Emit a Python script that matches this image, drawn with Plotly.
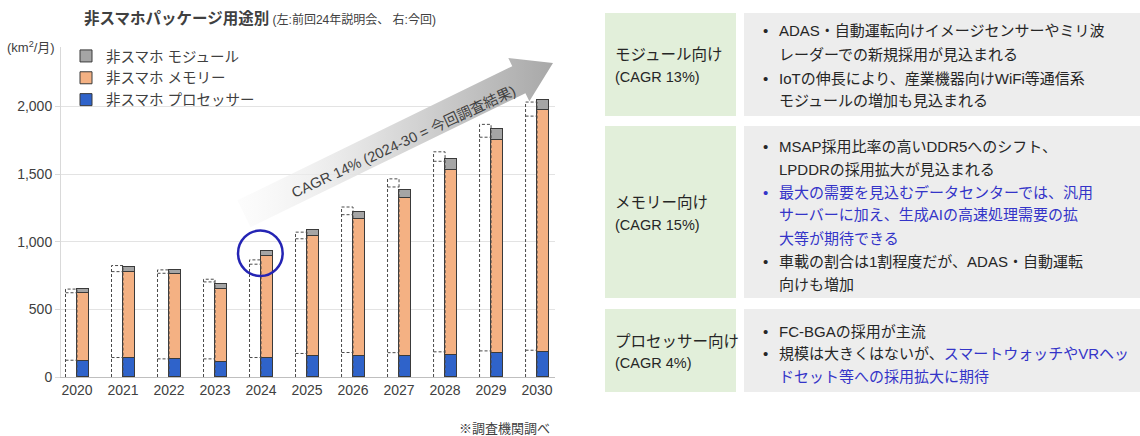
import math
import plotly.graph_objects as go

# ---------------- data ----------------
years = ["2020", "2021", "2022", "2023", "2024", "2025", "2026", "2027", "2028", "2029", "2030"]

# current survey (right bars)
cur_proc = [120, 141, 134, 111, 141, 156, 156, 155, 166, 174, 186]
cur_mem = [499, 638, 626, 542, 757, 890, 1014, 1169, 1363, 1575, 1786]
cur_mod = [29, 37, 32, 33, 37, 43, 47, 62, 84, 82, 76]

# previous (2024 briefing) survey (left dashed bars)
prev_proc = [124, 144, 134, 134, 144, 174, 181, 180, 186, 193, 198]
prev_mem = [499, 635, 633, 569, 690, 848, 1019, 1225, 1409, 1580, 1731]
prev_mod = [27, 45, 25, 20, 32, 49, 57, 60, 70, 95, 104]

series_names = ["非スマホ プロセッサー", "非スマホ メモリー", "非スマホ モジュール"]
y_ticks = [0, 500, 1000, 1500, 2000]

BLUE_TXT = "#3434C8"
rows = [
    {
        "head": "モジュール向け",
        "cagr": "(CAGR 13%)",
        "lines": [
            ("•", "ADAS・自動運転向けイメージセンサーやミリ波"),
            ("", "レーダーでの新規採用が見込まれる"),
            ("•", "IoTの伸長により、産業機器向けWiFi等通信系"),
            ("", "モジュールの増加も見込まれる"),
        ],
    },
    {
        "head": "メモリー向け",
        "cagr": "(CAGR 15%)",
        "lines": [
            ("•", "MSAP採用比率の高いDDR5へのシフト、"),
            ("", "LPDDRの採用拡大が見込まれる"),
            ("•b", f"<span style='color:{BLUE_TXT}'>最大の需要を見込むデータセンターでは、汎用</span>"),
            ("", f"<span style='color:{BLUE_TXT}'>サーバーに加え、生成AIの高速処理需要の拡</span>"),
            ("", f"<span style='color:{BLUE_TXT}'>大等が期待できる</span>"),
            ("•", "車載の割合は1割程度だが、ADAS・自動運転"),
            ("", "向けも増加"),
        ],
    },
    {
        "head": "プロセッサー向け",
        "cagr": "(CAGR 4%)",
        "lines": [
            ("•", "FC-BGAの採用が主流"),
            ("•", f"規模は大きくはないが、<span style='color:{BLUE_TXT}'>スマートウォッチやVRヘッ</span>"),
            ("", f"<span style='color:{BLUE_TXT}'>ドセット等への採用拡大に期待</span>"),
        ],
    },
]

# ---------------- layout geometry ----------------
W, H = 1140, 436
L, R, T, B = 61, 585, 47, 59
PW, PH = W - L - R, H - T - B
XR = (-0.348, 10.39)
YMAX = 2440

FONT = "Liberation Sans, Arial, Noto Sans CJK JP, sans-serif"
TXT = "#262626"


def px(x):
    return (x - L) / PW


def py(y):
    return (H - B - y) / PH


def dx(x):
    return XR[0] + (x - L) / PW * (XR[1] - XR[0])


def dy(y):
    return (H - B - y) / PH * YMAX


fig = go.Figure()

# ---- gray CAGR arrow (background decoration) ----
ang = math.radians(26)
d = (math.cos(ang), -math.sin(ang))
n = (math.sin(ang), math.cos(ang))
tip = (553, 63)
head_len, head_hw, shaft_hw = 38, 24, 15
bc = (tip[0] - head_len * d[0], tip[1] - head_len * d[1])
shaft_len = (bc[0] - 244) / d[0]
sc = (bc[0] - shaft_len * d[0], bc[1] - shaft_len * d[1])
poly = [
    (sc[0] - shaft_hw * n[0], sc[1] - shaft_hw * n[1]),
    (bc[0] - shaft_hw * n[0], bc[1] - shaft_hw * n[1]),
    (bc[0] - head_hw * n[0], bc[1] - head_hw * n[1]),
    tip,
    (bc[0] + head_hw * n[0], bc[1] + head_hw * n[1]),
    (bc[0] + shaft_hw * n[0], bc[1] + shaft_hw * n[1]),
    (sc[0] + shaft_hw * n[0], sc[1] + shaft_hw * n[1]),
]
poly.append(poly[0])
fig.add_trace(go.Scatter(
    x=[dx(p[0]) for p in poly], y=[dy(p[1]) for p in poly],
    mode="lines", fill="toself", line=dict(width=0, color="rgba(0,0,0,0)"),
    fillgradient=dict(type="horizontal",
                      colorscale=[[0, "rgba(248,248,248,0.4)"], [0.45, "#DEDEDE"], [1, "#A8A8A8"]]),
    hoverinfo="skip", showlegend=False,
))

# ---- current bars ----
idx = list(range(len(years)))
cur_x = [i + 0.125 for i in idx]
colors = ["#2F63CA", "#F4B183", "#A5A5A5"]
for name, vals, col, grp in zip(series_names, [cur_proc, cur_mem, cur_mod], colors, ["p", "m", "o"]):
    fig.add_trace(go.Bar(
        x=cur_x, y=vals, width=0.25, name=name, legendgroup=grp,
        marker=dict(color=col, line=dict(color="#3A3A3A", width=1)),
    ))

# ---- previous bars: dashed outlines ----
ox, oy = [], []
for i in idx:
    lft, rgt = i - 0.25, i
    b1 = prev_proc[i]
    b2 = prev_proc[i] + prev_mem[i]
    top = b2 + prev_mod[i]
    ox += [lft, lft, rgt, rgt, None]
    oy += [0, top, top, 0, None]
    for b in (b1, b2):
        ox += [lft, rgt, None]
        oy += [b, b, None]
fig.add_trace(go.Scatter(
    x=ox, y=oy, mode="lines", line=dict(color="#4A4A4A", width=1, dash="3px,2px"),
    hoverinfo="skip", showlegend=False,
))

shapes = []
ann = []

# circle around 2024 current bar
c_i = years.index("2024")
c_y = cur_proc[c_i] + cur_mem[c_i] + cur_mod[c_i] - 20
shapes.append(dict(type="circle", xref="x", yref="y",
                   x0=c_i - 0.5, x1=c_i + 0.47, y0=c_y - 168, y1=c_y + 168,
                   line=dict(color="#2424B4", width=2.5)))

# arrow text
ann.append(dict(x=px(403), y=py(142), xref="paper", yref="paper", xanchor="center", yanchor="middle",
                text="CAGR 14% (2024-30 = 今回調査結果)", showarrow=False, textangle=-25,
                font=dict(size=14.5, color="#404040", family=FONT)))

# title
ann.append(dict(x=px(82), y=py(19), xref="paper", yref="paper", xanchor="left", yanchor="middle",
                text="<b>非スマホパッケージ用途別</b><span style='font-size:12px'> (左:前回24年説明会、 右:今回)</span>",
                showarrow=False, font=dict(size=15.5, color="#404040", family=FONT)))
# unit
ann.append(dict(x=px(5), y=py(47), xref="paper", yref="paper", xanchor="left", yanchor="middle",
                text="(km<sup>2</sup>/月)", showarrow=False, font=dict(size=13, color="#404040", family=FONT)))
# source
ann.append(dict(x=px(457), y=py(428), xref="paper", yref="paper", xanchor="left", yanchor="middle",
                text="※調査機関調べ", showarrow=False, font=dict(size=13, color="#404040", family=FONT)))

# ---- right-hand table ----
row_boxes = [(13, 116), (126, 298), (309, 392)]
line_ys = [[31, 54, 78, 100], [146, 169, 192, 215, 238, 261, 284], [331, 353, 376]]
head_ys = [(54, 77), (202, 225), (341, 363)]
for row, (y0, y1), lys, (hy, cy) in zip(rows, row_boxes, line_ys, head_ys):
    shapes.append(dict(type="rect", xref="paper", yref="paper", layer="below",
                       x0=px(605), x1=px(736), y0=py(y1), y1=py(y0),
                       fillcolor="#E2EFDA", line=dict(width=0)))
    shapes.append(dict(type="rect", xref="paper", yref="paper", layer="below",
                       x0=px(744), x1=px(1140), y0=py(y1), y1=py(y0),
                       fillcolor="#EDEDED", line=dict(width=0)))
    ann.append(dict(x=px(613), y=py(hy), xref="paper", yref="paper", xanchor="left", yanchor="middle",
                    text=row["head"], showarrow=False, font=dict(size=15.5, color=TXT, family=FONT)))
    ann.append(dict(x=px(613), y=py(cy), xref="paper", yref="paper", xanchor="left", yanchor="middle",
                    text=row["cagr"], showarrow=False, font=dict(size=14.5, color=TXT, family=FONT)))
    for (bul, txt), ly in zip(row["lines"], lys):
        if bul:
            bcol = BLUE_TXT if bul == "•b" else TXT
            ann.append(dict(x=px(761), y=py(ly), xref="paper", yref="paper", xanchor="left", yanchor="middle",
                            text="•", showarrow=False, font=dict(size=15, color=bcol, family=FONT)))
        ann.append(dict(x=px(777), y=py(ly), xref="paper", yref="paper", xanchor="left", yanchor="middle",
                        text=txt, showarrow=False, font=dict(size=15, color=TXT, family=FONT)))

fig.update_layout(
    width=W, height=H, margin=dict(l=L, r=R, t=T, b=B, autoexpand=False),
    paper_bgcolor="white", plot_bgcolor="white",
    barmode="stack", bargap=0,
    font=dict(family=FONT, color="#404040"),
    showlegend=True,
    legend=dict(x=px(66), y=py(40), xanchor="left", yanchor="top", traceorder="reversed",
                tracegroupgap=6, bgcolor="rgba(0,0,0,0)",
                font=dict(size=14.5, color="#404040", family=FONT)),
    shapes=shapes, annotations=ann,
)
fig.update_xaxes(range=list(XR), tickmode="array", tickvals=idx, ticktext=years,
                 showgrid=False, zeroline=False, showline=True, linecolor="#BFBFBF", linewidth=1,
                 ticks="", tickfont=dict(size=14, color="#404040"))
fig.update_yaxes(range=[0, YMAX], tickmode="array", tickvals=y_ticks, tickformat=",",
                 showgrid=True, gridcolor="#E3E3E3", gridwidth=1, zeroline=False,
                 showline=True, linecolor="#D9D9D9", ticks="outside", ticklen=5, tickcolor="#D9D9D9",
                 tickfont=dict(size=14, color="#404040"))

fig.write_html("out.html", config={"displayModeBar": False},
               post_script="document.body.style.margin='0';document.body.style.overflow='hidden';")
